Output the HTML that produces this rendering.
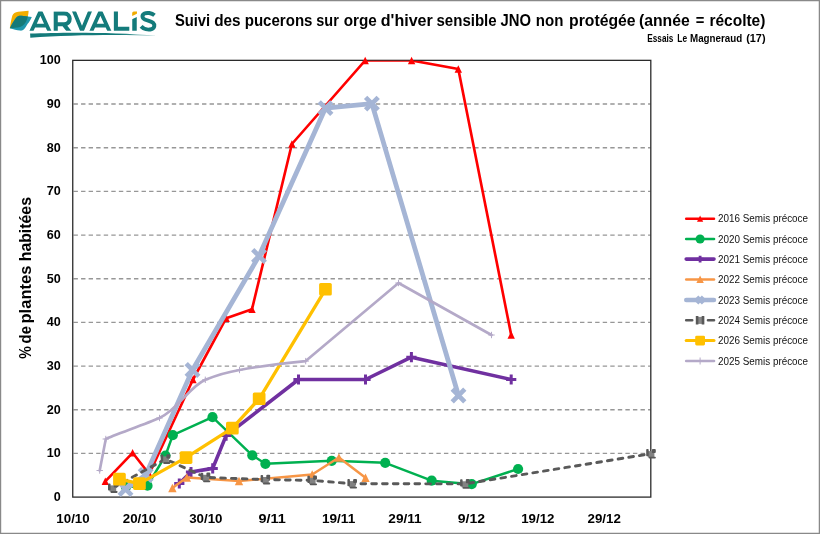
<!DOCTYPE html>
<html lang="fr"><head><meta charset="utf-8"><title>Suivi des pucerons</title>
<style>
html,body{margin:0;padding:0;background:#fff;}
body{width:820px;height:534px;overflow:hidden;font-family:"Liberation Sans",sans-serif;}
svg{display:block;position:absolute;left:0;top:0;will-change:transform;}
text{font-family:"Liberation Sans",sans-serif;}
.b{font-weight:700;}
</style></head><body>
<svg width="820" height="534" viewBox="0 0 820 534">
<defs>
<clipPath id="plot"><rect x="73" y="60.7" width="578" height="436.4"/></clipPath>
<linearGradient id="sw" x1="0" y1="0" x2="1" y2="0"><stop offset="0" stop-color="#147B7B"/><stop offset="0.7" stop-color="#147B7B"/><stop offset="1" stop-color="#147B7B" stop-opacity="0.45"/></linearGradient>
</defs>
<rect x="0" y="0" width="820" height="534" fill="#fff"/>
<path d="M0,0 H820 V534 H0 Z M1.2,1.2 V532.75 H818.75 V1.2 Z" fill="#898989" fill-rule="evenodd"/>

<g id="logo">
<clipPath id="lc"><rect x="25" y="11.5" width="140" height="19.3"/></clipPath>
<clipPath id="bl"><path d="M9.9,28.3 C11.2,25.6 12.6,23 13.9,21.1 C15.2,19 16.2,17.2 18,16.3 C19,15.8 20,15.7 21.5,15.8 L31.8,17 C30.6,20 29.2,22 27.7,23.8 C26.4,26 25.4,28 24.2,29 C23,30.4 21.6,30.8 20,30.6 C17,30.3 13.4,29.4 9.9,28.3 Z"/></clipPath>
<path d="M9.8,28.2 C10.5,23.5 11.3,19 12.3,15.8 C13.1,13.4 15.2,12.1 18.1,11.8 L28.6,10.7 C28.5,13.5 28,16.6 27,19.6 C25.8,23 23.6,26 20.2,27 C17,27.8 13.5,28.1 9.8,28.2 Z" fill="#F3AE00"/>
<path d="M9.9,28.3 C11.2,25.6 12.6,23 13.9,21.1 C15.2,19 16.2,17.2 18,16.3 C19,15.8 20,15.7 21.5,15.8 L31.8,17 C30.6,20 29.2,22 27.7,23.8 C26.4,26 25.4,28 24.2,29 C23,30.4 21.6,30.8 20,30.6 C17,30.3 13.4,29.4 9.9,28.3 Z" fill="#1E97AD"/>
<path clip-path="url(#bl)" d="M9.8,28.2 C10.5,23.5 11.3,19 12.3,15.8 C13.1,13.4 15.2,12.1 18.1,11.8 L28.6,10.7 C28.5,13.5 28,16.6 27,19.6 C25.8,23 23.6,26 20.2,27 C17,27.8 13.5,28.1 9.8,28.2 Z" fill="#157A78"/>
<g clip-path="url(#lc)"><g fill="none" stroke="#147B7B" stroke-width="3.75" stroke-linejoin="miter" stroke-miterlimit="10">
<path d="M30.85,32.3 L40.4,11.3 L49.95,32.3 M35,25.6 H46" />
<path d="M55.75,32 V13.4 H64 C71.6,13.4 71.6,24.2 64,24.2 H55.75 M63.6,24.2 L70.4,33" stroke-width="4.1" stroke-miterlimit="2"/>
<path d="M73.4,9.8 L82,30.8 L90.6,9.8" />
<path d="M90.85,32.3 L100.4,11.3 L109.95,32.3 M95,25.6 H106"/>
<path d="M115.9,10 V28.9 H129.3" stroke-width="4.1"/>
<path d="M134.5,10 V32" stroke-width="4.5"/>
</g></g>
<path d="M154.5,15.3 C151.5,12.9 147,12.3 144.5,13.5 C141.7,14.8 141.9,18.2 144.8,19.5 C147.4,20.7 151,21 153,22.7 C155.1,24.6 154.7,28.1 151.6,29.1 C148,30.2 143.5,29 141.1,26.4" fill="none" stroke="#147B7B" stroke-width="4.0"/>
<path d="M131.5,19.6 L138,16.4 L138,10 L131.5,10 Z" fill="#fff"/>
<path d="M132.2,13 Q132.2,11.5 133.8,11.5 L137,11.5 L136.9,13.7 L132.2,16.1 Z" fill="#F0AB00"/>
<path d="M30.1,33.6 C60,32.4 110,31.8 157.5,35.8 C120,34.5 70,34.9 30.3,37.8 Z" fill="url(#sw)"/>
</g>

<text class="b" x="174.90" y="25.7" font-size="15.9" textLength="35.30" lengthAdjust="spacingAndGlyphs" fill="#000">Suivi</text>
<text class="b" x="214.20" y="25.7" font-size="15.9" textLength="26.40" lengthAdjust="spacingAndGlyphs" fill="#000">des</text>
<text class="b" x="244.70" y="25.7" font-size="15.9" textLength="67.80" lengthAdjust="spacingAndGlyphs" fill="#000">pucerons</text>
<text class="b" x="316.30" y="25.7" font-size="15.9" textLength="22.50" lengthAdjust="spacingAndGlyphs" fill="#000">sur</text>
<text class="b" x="343.70" y="25.7" font-size="15.9" textLength="33.10" lengthAdjust="spacingAndGlyphs" fill="#000">orge</text>
<text class="b" x="380.80" y="25.7" font-size="15.9" textLength="52.00" lengthAdjust="spacingAndGlyphs" fill="#000">d'hiver</text>
<text class="b" x="436.50" y="25.7" font-size="15.9" textLength="60.10" lengthAdjust="spacingAndGlyphs" fill="#000">sensible</text>
<text class="b" x="500.60" y="25.7" font-size="15.9" textLength="30.50" lengthAdjust="spacingAndGlyphs" fill="#000">JNO</text>
<text class="b" x="535.80" y="25.7" font-size="15.9" textLength="27.60" lengthAdjust="spacingAndGlyphs" fill="#000">non</text>
<text class="b" x="569.10" y="25.7" font-size="15.9" textLength="66.50" lengthAdjust="spacingAndGlyphs" fill="#000">protégée</text>
<text class="b" x="638.90" y="25.7" font-size="15.9" textLength="50.80" lengthAdjust="spacingAndGlyphs" fill="#000">(année</text>
<text class="b" x="695.70" y="25.7" font-size="15.9" textLength="8.60" lengthAdjust="spacingAndGlyphs" fill="#000">=</text>
<text class="b" x="709.40" y="25.7" font-size="15.9" textLength="56.00" lengthAdjust="spacingAndGlyphs" fill="#000">récolte)</text>
<text class="b" x="647.25" y="41.8" font-size="10.7" textLength="26.10" lengthAdjust="spacingAndGlyphs" fill="#000">Essais</text>
<text class="b" x="677.35" y="41.8" font-size="10.7" textLength="9.80" lengthAdjust="spacingAndGlyphs" fill="#000">Le</text>
<text class="b" x="690.05" y="41.8" font-size="10.7" textLength="52.10" lengthAdjust="spacingAndGlyphs" fill="#000">Magneraud</text>
<text class="b" x="746.15" y="41.8" font-size="10.7" textLength="19.40" lengthAdjust="spacingAndGlyphs" fill="#000">(17)</text>
<line x1="73.5" x2="650.5" y1="453.4" y2="453.4" stroke="#979797" stroke-width="1.38" stroke-dasharray="4.4 3.16"/>
<line x1="73.5" x2="650.5" y1="409.8" y2="409.8" stroke="#979797" stroke-width="1.38" stroke-dasharray="4.4 3.16"/>
<line x1="73.5" x2="650.5" y1="366.1" y2="366.1" stroke="#979797" stroke-width="1.38" stroke-dasharray="4.4 3.16"/>
<line x1="73.5" x2="650.5" y1="322.4" y2="322.4" stroke="#979797" stroke-width="1.38" stroke-dasharray="4.4 3.16"/>
<line x1="73.5" x2="650.5" y1="278.7" y2="278.7" stroke="#979797" stroke-width="1.38" stroke-dasharray="4.4 3.16"/>
<line x1="73.5" x2="650.5" y1="235.1" y2="235.1" stroke="#979797" stroke-width="1.38" stroke-dasharray="4.4 3.16"/>
<line x1="73.5" x2="650.5" y1="191.4" y2="191.4" stroke="#979797" stroke-width="1.38" stroke-dasharray="4.4 3.16"/>
<line x1="73.5" x2="650.5" y1="147.7" y2="147.7" stroke="#979797" stroke-width="1.38" stroke-dasharray="4.4 3.16"/>
<line x1="73.5" x2="650.5" y1="104.0" y2="104.0" stroke="#979797" stroke-width="1.38" stroke-dasharray="4.4 3.16"/>
<text class="b" x="53.8" y="501.1" font-size="12.5" textLength="7.0" lengthAdjust="spacingAndGlyphs" fill="#000">0</text>
<text class="b" x="46.8" y="457.4" font-size="12.5" textLength="14.0" lengthAdjust="spacingAndGlyphs" fill="#000">10</text>
<text class="b" x="46.8" y="413.8" font-size="12.5" textLength="14.0" lengthAdjust="spacingAndGlyphs" fill="#000">20</text>
<text class="b" x="46.8" y="370.1" font-size="12.5" textLength="14.0" lengthAdjust="spacingAndGlyphs" fill="#000">30</text>
<text class="b" x="46.8" y="326.4" font-size="12.5" textLength="14.0" lengthAdjust="spacingAndGlyphs" fill="#000">40</text>
<text class="b" x="46.8" y="282.7" font-size="12.5" textLength="14.0" lengthAdjust="spacingAndGlyphs" fill="#000">50</text>
<text class="b" x="46.8" y="239.1" font-size="12.5" textLength="14.0" lengthAdjust="spacingAndGlyphs" fill="#000">60</text>
<text class="b" x="46.8" y="195.4" font-size="12.5" textLength="14.0" lengthAdjust="spacingAndGlyphs" fill="#000">70</text>
<text class="b" x="46.8" y="151.7" font-size="12.5" textLength="14.0" lengthAdjust="spacingAndGlyphs" fill="#000">80</text>
<text class="b" x="46.8" y="108.0" font-size="12.5" textLength="14.0" lengthAdjust="spacingAndGlyphs" fill="#000">90</text>
<text class="b" x="39.8" y="64.4" font-size="12.5" textLength="21.0" lengthAdjust="spacingAndGlyphs" fill="#000">100</text>
<text class="b" x="73.0" y="522.5" font-size="12.5" text-anchor="middle" textLength="33.3" lengthAdjust="spacingAndGlyphs" fill="#000">10/10</text>
<text class="b" x="139.4" y="522.5" font-size="12.5" text-anchor="middle" textLength="33.3" lengthAdjust="spacingAndGlyphs" fill="#000">20/10</text>
<text class="b" x="205.8" y="522.5" font-size="12.5" text-anchor="middle" textLength="33.3" lengthAdjust="spacingAndGlyphs" fill="#000">30/10</text>
<text class="b" x="272.2" y="522.5" font-size="12.5" text-anchor="middle" textLength="27.3" lengthAdjust="spacingAndGlyphs" fill="#000">9/11</text>
<text class="b" x="338.6" y="522.5" font-size="12.5" text-anchor="middle" textLength="33.3" lengthAdjust="spacingAndGlyphs" fill="#000">19/11</text>
<text class="b" x="405.0" y="522.5" font-size="12.5" text-anchor="middle" textLength="33.3" lengthAdjust="spacingAndGlyphs" fill="#000">29/11</text>
<text class="b" x="471.4" y="522.5" font-size="12.5" text-anchor="middle" textLength="27.3" lengthAdjust="spacingAndGlyphs" fill="#000">9/12</text>
<text class="b" x="537.8" y="522.5" font-size="12.5" text-anchor="middle" textLength="33.3" lengthAdjust="spacingAndGlyphs" fill="#000">19/12</text>
<text class="b" x="604.2" y="522.5" font-size="12.5" text-anchor="middle" textLength="33.3" lengthAdjust="spacingAndGlyphs" fill="#000">29/12</text>
<text class="b" transform="translate(31.4,358.7) rotate(-90)" font-size="16.2" textLength="12.5" lengthAdjust="spacingAndGlyphs" fill="#000">%</text>
<text class="b" transform="translate(31.4,343.4) rotate(-90)" font-size="16.2" textLength="17.3" lengthAdjust="spacingAndGlyphs" fill="#000">de</text>
<text class="b" transform="translate(31.4,323.5) rotate(-90)" font-size="16.2" textLength="57.9" lengthAdjust="spacingAndGlyphs" fill="#000">plantes</text>
<text class="b" transform="translate(31.4,261.3) rotate(-90)" font-size="16.2" textLength="64.3" lengthAdjust="spacingAndGlyphs" fill="#000">habitées</text>
<rect x="72.75" y="60.35" width="578.05" height="436.75" fill="none" stroke="#2b2b2b" stroke-width="1.3"/>
<g id="s2016">
<g clip-path="url(#plot)"><polyline points="105.3,481.3 132.6,452.8 149.2,474.0 193.0,379.5 226.2,318.2 252.0,309.2 291.9,144.0 365.2,60.5 411.6,60.5 458.3,69.0 511.2,335.0" fill="none" stroke="#FF0000" stroke-width="2.65" stroke-linejoin="round" stroke-linecap="round" /></g>
<path d="M101.6,485.0 L105.3,477.6 L109.0,485.0 Z" fill="#FF0000"/>
<path d="M128.9,456.5 L132.6,449.1 L136.3,456.5 Z" fill="#FF0000"/>
<path d="M145.5,477.7 L149.2,470.3 L152.9,477.7 Z" fill="#FF0000"/>
<path d="M189.3,383.2 L193.0,375.8 L196.7,383.2 Z" fill="#FF0000"/>
<path d="M222.5,321.9 L226.2,314.5 L229.9,321.9 Z" fill="#FF0000"/>
<path d="M248.3,312.9 L252.0,305.5 L255.7,312.9 Z" fill="#FF0000"/>
<path d="M288.2,147.7 L291.9,140.3 L295.6,147.7 Z" fill="#FF0000"/>
<path d="M361.5,64.2 L365.2,56.8 L368.9,64.2 Z" fill="#FF0000"/>
<path d="M407.9,64.2 L411.6,56.8 L415.3,64.2 Z" fill="#FF0000"/>
<path d="M454.6,72.7 L458.3,65.3 L462.0,72.7 Z" fill="#FF0000"/>
<path d="M507.5,338.7 L511.2,331.3 L514.9,338.7 Z" fill="#FF0000"/>
</g><g id="s2020">
<polyline points="126.0,487.0 147.5,485.7 165.5,455.5 172.8,435.2 212.5,417.2 252.3,455.3 265.4,463.8 331.7,460.8 385.2,462.8 431.7,480.7 471.7,484.2 518.1,469.0" fill="none" stroke="#00B050" stroke-width="2.45" stroke-linejoin="round" stroke-linecap="round" />
<circle cx="126.0" cy="487.0" r="5.1" fill="#00B050"/>
<circle cx="147.5" cy="485.7" r="5.1" fill="#00B050"/>
<circle cx="165.5" cy="455.5" r="5.1" fill="#00B050"/>
<circle cx="172.8" cy="435.2" r="5.1" fill="#00B050"/>
<circle cx="212.5" cy="417.2" r="5.1" fill="#00B050"/>
<circle cx="252.3" cy="455.3" r="5.1" fill="#00B050"/>
<circle cx="265.4" cy="463.8" r="5.1" fill="#00B050"/>
<circle cx="331.7" cy="460.8" r="5.1" fill="#00B050"/>
<circle cx="385.2" cy="462.8" r="5.1" fill="#00B050"/>
<circle cx="431.7" cy="480.7" r="5.1" fill="#00B050"/>
<circle cx="471.7" cy="484.2" r="5.1" fill="#00B050"/>
<circle cx="518.1" cy="469.0" r="5.1" fill="#00B050"/>
</g><g id="s2021">
<polyline points="179.3,483.5 191.0,472.0 212.7,468.4 226.1,435.6 298.5,379.5 365.5,379.5 411.4,357.2 511.2,379.5" fill="none" stroke="#7030A0" stroke-width="3.6" stroke-linejoin="round" stroke-linecap="round" />
<path d="M174.2,483.5 H184.4 M179.3,478.4 V488.6" stroke="#7030A0" stroke-width="3.0" fill="none"/>
<path d="M185.9,472.0 H196.1 M191.0,466.9 V477.1" stroke="#7030A0" stroke-width="3.0" fill="none"/>
<path d="M207.6,468.4 H217.8 M212.7,463.3 V473.5" stroke="#7030A0" stroke-width="3.0" fill="none"/>
<path d="M221.0,435.6 H231.2 M226.1,430.5 V440.7" stroke="#7030A0" stroke-width="3.0" fill="none"/>
<path d="M293.4,379.5 H303.6 M298.5,374.4 V384.6" stroke="#7030A0" stroke-width="3.0" fill="none"/>
<path d="M360.4,379.5 H370.6 M365.5,374.4 V384.6" stroke="#7030A0" stroke-width="3.0" fill="none"/>
<path d="M406.3,357.2 H416.5 M411.4,352.1 V362.3" stroke="#7030A0" stroke-width="3.0" fill="none"/>
<path d="M506.1,379.5 H516.3 M511.2,374.4 V384.6" stroke="#7030A0" stroke-width="3.0" fill="none"/>
</g><g id="s2022">
<polyline points="172.4,488.0 186.8,477.5 239.0,481.0 312.2,474.5 338.9,457.5 365.5,477.8" fill="none" stroke="#F79646" stroke-width="2.5" stroke-linejoin="round" stroke-linecap="round" />
<path d="M168.2,492.2 L172.4,483.8 L176.6,492.2 Z" fill="#F79646"/>
<path d="M182.6,481.7 L186.8,473.3 L191.0,481.7 Z" fill="#F79646"/>
<path d="M234.8,485.2 L239.0,476.8 L243.2,485.2 Z" fill="#F79646"/>
<path d="M308.0,478.7 L312.2,470.3 L316.4,478.7 Z" fill="#F79646"/>
<path d="M334.7,461.7 L338.9,453.3 L343.1,461.7 Z" fill="#F79646"/>
<path d="M361.3,482.0 L365.5,473.6 L369.7,482.0 Z" fill="#F79646"/>
</g><g id="s2023">
<polyline points="125.5,489.0 145.7,475.0 192.5,370.0 259.0,256.0 325.5,108.1 371.9,103.6 458.5,395.5" fill="none" stroke="#A5B5D5" stroke-width="4.8" stroke-linejoin="round" stroke-linecap="round" />
<path d="M119.2,482.7 L131.8,495.3 M119.2,495.3 L131.8,482.7" stroke="#A5B5D5" stroke-width="4.7" fill="none"/>
<path d="M139.4,468.7 L152.0,481.3 M139.4,481.3 L152.0,468.7" stroke="#A5B5D5" stroke-width="4.7" fill="none"/>
<path d="M186.2,363.7 L198.8,376.3 M186.2,376.3 L198.8,363.7" stroke="#A5B5D5" stroke-width="4.7" fill="none"/>
<path d="M252.7,249.7 L265.3,262.3 M252.7,262.3 L265.3,249.7" stroke="#A5B5D5" stroke-width="4.7" fill="none"/>
<path d="M319.2,101.8 L331.8,114.4 M319.2,114.4 L331.8,101.8" stroke="#A5B5D5" stroke-width="4.7" fill="none"/>
<path d="M365.6,97.3 L378.2,109.9 M365.6,109.9 L378.2,97.3" stroke="#A5B5D5" stroke-width="4.7" fill="none"/>
<path d="M452.2,389.2 L464.8,401.8 M452.2,401.8 L464.8,389.2" stroke="#A5B5D5" stroke-width="4.7" fill="none"/>
</g><g id="s2024">
<polyline points="112.8,488.0 165.5,459.0 205.5,477.4 265.4,479.6 312.2,480.4 352.2,483.7 464.9,483.9 651.0,453.7" fill="none" stroke="#595959" stroke-width="2.9" stroke-dasharray="4.7 6.1" stroke-dashoffset="10.2" stroke-linecap="round" stroke-linejoin="round"/>
<rect x="109.6" y="485.4" width="6.6" height="6.2" fill="#828282"/><rect x="108.0" y="483.4" width="2.5" height="7.2" rx="0.8" fill="#595959"/><rect x="113.7" y="483.2" width="3.9" height="4.2" rx="1.0" fill="#595959"/><rect x="110.4" y="491.0" width="7.2" height="1.9" rx="0.8" fill="#595959"/>
<rect x="162.3" y="456.4" width="6.6" height="6.2" fill="#828282"/><rect x="160.7" y="454.4" width="2.5" height="7.2" rx="0.8" fill="#595959"/><rect x="166.4" y="454.2" width="3.9" height="4.2" rx="1.0" fill="#595959"/><rect x="163.1" y="462.0" width="7.2" height="1.9" rx="0.8" fill="#595959"/>
<rect x="202.3" y="474.8" width="6.6" height="6.2" fill="#828282"/><rect x="200.7" y="472.8" width="2.5" height="7.2" rx="0.8" fill="#595959"/><rect x="206.4" y="472.6" width="3.9" height="4.2" rx="1.0" fill="#595959"/><rect x="203.1" y="480.4" width="7.2" height="1.9" rx="0.8" fill="#595959"/>
<rect x="262.2" y="477.0" width="6.6" height="6.2" fill="#828282"/><rect x="260.6" y="475.0" width="2.5" height="7.2" rx="0.8" fill="#595959"/><rect x="266.3" y="474.8" width="3.9" height="4.2" rx="1.0" fill="#595959"/><rect x="263.0" y="482.6" width="7.2" height="1.9" rx="0.8" fill="#595959"/>
<rect x="309.0" y="477.8" width="6.6" height="6.2" fill="#828282"/><rect x="307.4" y="475.8" width="2.5" height="7.2" rx="0.8" fill="#595959"/><rect x="313.1" y="475.6" width="3.9" height="4.2" rx="1.0" fill="#595959"/><rect x="309.8" y="483.4" width="7.2" height="1.9" rx="0.8" fill="#595959"/>
<rect x="349.0" y="481.1" width="6.6" height="6.2" fill="#828282"/><rect x="347.4" y="479.1" width="2.5" height="7.2" rx="0.8" fill="#595959"/><rect x="353.1" y="478.9" width="3.9" height="4.2" rx="1.0" fill="#595959"/><rect x="349.8" y="486.7" width="7.2" height="1.9" rx="0.8" fill="#595959"/>
<rect x="461.7" y="481.3" width="6.6" height="6.2" fill="#828282"/><rect x="460.1" y="479.3" width="2.5" height="7.2" rx="0.8" fill="#595959"/><rect x="465.8" y="479.1" width="3.9" height="4.2" rx="1.0" fill="#595959"/><rect x="462.5" y="486.9" width="7.2" height="1.9" rx="0.8" fill="#595959"/>
<rect x="647.8" y="451.1" width="6.6" height="6.2" fill="#828282"/><rect x="646.2" y="449.1" width="2.5" height="7.2" rx="0.8" fill="#595959"/><rect x="651.9" y="448.9" width="3.9" height="4.2" rx="1.0" fill="#595959"/><rect x="648.6" y="456.7" width="7.2" height="1.9" rx="0.8" fill="#595959"/>
</g><g id="s2026">
<polyline points="119.4,479.2 139.4,483.6 186.0,457.6 232.3,428.2 259.2,398.8 325.5,289.3" fill="none" stroke="#FFC000" stroke-width="3.3" stroke-linejoin="round" stroke-linecap="round" />
<rect x="113.1" y="472.8" width="12.7" height="12.7" rx="1.6" fill="#FFC000"/>
<rect x="133.1" y="477.2" width="12.7" height="12.7" rx="1.6" fill="#FFC000"/>
<rect x="179.7" y="451.2" width="12.7" height="12.7" rx="1.6" fill="#FFC000"/>
<rect x="226.0" y="421.8" width="12.7" height="12.7" rx="1.6" fill="#FFC000"/>
<rect x="252.8" y="392.4" width="12.7" height="12.7" rx="1.6" fill="#FFC000"/>
<rect x="319.1" y="282.9" width="12.7" height="12.7" rx="1.6" fill="#FFC000"/>
</g><g id="s2025">
<path d="M99.7,470.5 L105.8,439.0 C111.8,436.0 145.5,424.0 159.5,418.0 C177.5,410.0 189.3,386.8 205.3,379.8 C215.3,375.8 227.5,372.0 239.5,370.0 C255.5,367.0 285.7,363.1 305.7,361.1 L398.5,283.0 L491.5,335.0" fill="none" stroke="#B4A9C8" stroke-width="2.65" stroke-linejoin="round" stroke-linecap="round"/>
<path d="M96.5,470.5 H102.9 M99.7,467.3 V473.7" stroke="#B4A9C8" stroke-width="1.0" fill="none"/>
<path d="M102.6,439.0 H109.0 M105.8,435.8 V442.2" stroke="#B4A9C8" stroke-width="1.0" fill="none"/>
<path d="M156.3,418.0 H162.7 M159.5,414.8 V421.2" stroke="#B4A9C8" stroke-width="1.0" fill="none"/>
<path d="M202.1,379.8 H208.5 M205.3,376.6 V383.0" stroke="#B4A9C8" stroke-width="1.0" fill="none"/>
<path d="M236.3,370.0 H242.7 M239.5,366.8 V373.2" stroke="#B4A9C8" stroke-width="1.0" fill="none"/>
<path d="M302.5,361.1 H308.9 M305.7,357.9 V364.3" stroke="#B4A9C8" stroke-width="1.0" fill="none"/>
<path d="M395.3,283.0 H401.7 M398.5,279.8 V286.2" stroke="#B4A9C8" stroke-width="1.0" fill="none"/>
<path d="M488.3,335.0 H494.7 M491.5,331.8 V338.2" stroke="#B4A9C8" stroke-width="1.0" fill="none"/>
</g>
<g id="legend">
<line x1="686.2" x2="714.0" y1="218.8" y2="218.8" stroke="#FF0000" stroke-width="2.5" stroke-linecap="round" />
<path d="M697.0,221.7 L700.1,215.5 L703.2,221.7 Z" fill="#FF0000"/>
<line x1="686.2" x2="714.0" y1="239.0" y2="239.0" stroke="#00B050" stroke-width="2.6" stroke-linecap="round" />
<circle cx="700.1" cy="239.0" r="4.55" fill="#00B050"/>
<line x1="686.2" x2="714.0" y1="259.1" y2="259.1" stroke="#7030A0" stroke-width="3.6" stroke-linecap="round" />
<path d="M696.7,259.1 H703.5 M700.1,255.7 V262.5" stroke="#7030A0" stroke-width="2.8" fill="none"/>
<line x1="686.2" x2="714.0" y1="279.5" y2="279.5" stroke="#F79646" stroke-width="2.5" stroke-linecap="round" />
<path d="M696.4,282.9 L700.1,275.5 L703.8,282.9 Z" fill="#F79646"/>
<line x1="686.2" x2="714.0" y1="300.0" y2="300.0" stroke="#A5B5D5" stroke-width="4.4" stroke-linecap="round" />
<path d="M696.9,296.8 L703.3,303.2 M696.9,303.2 L703.3,296.8" stroke="#A5B5D5" stroke-width="4.0" fill="none"/>
<path d="M686.2,320.3 h6 M708.0,320.3 h6" stroke="#595959" stroke-width="2.6" stroke-linecap="round"/>
<rect x="696.3000000000001" y="316.90000000000003" width="7.8" height="7.0" fill="#8a8a8a"/><path d="M697.1,316.1 v8.4 M703.0,316.1 v8.4" stroke="#595959" stroke-width="2.6" fill="none"/>
<line x1="686.2" x2="714.0" y1="340.6" y2="340.6" stroke="#FFC000" stroke-width="3.0" stroke-linecap="round" />
<rect x="695.2" y="335.7" width="9.8" height="9.8" rx="1.4" fill="#FFC000"/>
<line x1="686.2" x2="714.0" y1="361.0" y2="361.0" stroke="#B4A9C8" stroke-width="2.6" stroke-linecap="round" />
<path d="M696.6,361.0 H703.6 M700.1,357.5 V364.5" stroke="#B4A9C8" stroke-width="1.0" fill="none"/>
<text x="718.1" y="222.4" font-size="10.0" textLength="89.9" lengthAdjust="spacingAndGlyphs" fill="#111">2016 Semis précoce</text>
<text x="718.1" y="242.6" font-size="10.0" textLength="89.9" lengthAdjust="spacingAndGlyphs" fill="#111">2020 Semis précoce</text>
<text x="718.1" y="262.7" font-size="10.0" textLength="89.9" lengthAdjust="spacingAndGlyphs" fill="#111">2021 Semis précoce</text>
<text x="718.1" y="283.1" font-size="10.0" textLength="89.9" lengthAdjust="spacingAndGlyphs" fill="#111">2022 Semis précoce</text>
<text x="718.1" y="303.6" font-size="10.0" textLength="89.9" lengthAdjust="spacingAndGlyphs" fill="#111">2023 Semis précoce</text>
<text x="718.1" y="323.9" font-size="10.0" textLength="89.9" lengthAdjust="spacingAndGlyphs" fill="#111">2024 Semis précoce</text>
<text x="718.1" y="344.2" font-size="10.0" textLength="89.9" lengthAdjust="spacingAndGlyphs" fill="#111">2026 Semis précoce</text>
<text x="718.1" y="364.6" font-size="10.0" textLength="89.9" lengthAdjust="spacingAndGlyphs" fill="#111">2025 Semis précoce</text>
</g>
</svg>
</body></html>
